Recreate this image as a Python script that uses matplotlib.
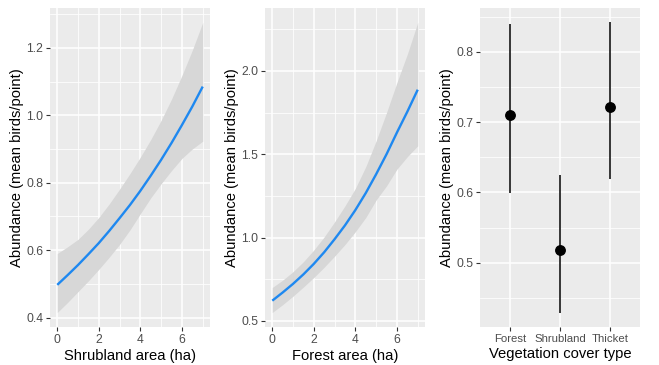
import numpy as np
import matplotlib
matplotlib.use("Agg")
import matplotlib.pyplot as plt
from matplotlib.ticker import FixedLocator

plt.rcParams['font.family'] = ['Liberation Sans', 'DejaVu Sans']

# ---- data ----
area = [0, 0.5, 1, 1.5, 2, 2.5, 3, 3.5, 4, 4.5, 5, 5.5, 6, 6.5, 7]

# panel 1: fitted abundance vs shrubland area with confidence band
shrub_fit = [0.497, 0.526, 0.556, 0.588, 0.621, 0.657, 0.695, 0.734,
             0.776, 0.821, 0.868, 0.918, 0.971, 1.026, 1.085]
shrub_lo = [0.415, 0.445, 0.477, 0.509, 0.543, 0.579, 0.617, 0.660,
            0.708, 0.755, 0.797, 0.836, 0.872, 0.900, 0.923]
shrub_hi = [0.590, 0.610, 0.632, 0.662, 0.697, 0.737, 0.781, 0.827,
            0.876, 0.928, 0.985, 1.048, 1.118, 1.193, 1.275]

# panel 2: fitted abundance vs forest area with confidence band
forest_fit = [0.621, 0.670, 0.722, 0.779, 0.842, 0.912, 0.990, 1.073,
              1.165, 1.267, 1.380, 1.500, 1.630, 1.755, 1.887]
forest_lo = [0.550, 0.597, 0.648, 0.703, 0.760, 0.822, 0.888, 0.958,
             1.035, 1.120, 1.225, 1.310, 1.410, 1.485, 1.550]
forest_hi = [0.700, 0.744, 0.795, 0.855, 0.925, 1.004, 1.094, 1.190,
             1.295, 1.425, 1.580, 1.750, 1.930, 2.100, 2.290]

# panel 3: estimates by vegetation cover type
veg_types = ['Forest', 'Shrubland', 'Thicket']
veg_mean = [0.710, 0.518, 0.722]
veg_lo = [0.599, 0.429, 0.619]
veg_hi = [0.840, 0.625, 0.842]

# ---- style ----
bg = '#EBEBEB'
line_col = '#1E88F0'
ribbon_col = '#D7D7D7'
tick_col = '#4D4D4D'
ylab = 'Abundance (mean birds/point)'

fig = plt.figure(figsize=(6.59, 3.65), dpi=100)
W, H = 659.0, 365.0

def make_ax(x0, x1, y0=8, y1=327):
    ax = fig.add_axes([x0 / W, 1 - y1 / H, (x1 - x0) / W, (y1 - y0) / H])
    ax.set_facecolor(bg)
    for s in ax.spines.values():
        s.set_visible(False)
    ax.set_axisbelow(True)
    ax.grid(which='major', color='white', linewidth=1.1)
    ax.grid(which='minor', color='white', linewidth=0.55)
    ax.tick_params(which='major', length=3, width=0.8, color='#333333',
                   labelcolor=tick_col, labelsize=8.7, pad=2)
    ax.tick_params(which='minor', length=0)
    return ax

def expand(lo, hi, f=0.05):
    d = (hi - lo) * f
    return lo - d, hi + d

# Panel 1: shrubland area
ax1 = make_ax(50, 210)
ax1.fill_between(area, shrub_lo, shrub_hi, color=ribbon_col, lw=0)
ax1.plot(area, shrub_fit, color=line_col, lw=1.7, solid_capstyle='butt')
ax1.set_xlim(*expand(0, 7))
ax1.set_ylim(*expand(min(shrub_lo), max(shrub_hi)))
ax1.xaxis.set_major_locator(FixedLocator([0, 2, 4, 6]))
ax1.xaxis.set_minor_locator(FixedLocator([1, 3, 5, 7]))
ax1.yaxis.set_major_locator(FixedLocator([0.4, 0.6, 0.8, 1.0, 1.2]))
ax1.yaxis.set_minor_locator(FixedLocator([0.5, 0.7, 0.9, 1.1, 1.3]))
ax1.set_yticklabels(['0.4', '0.6', '0.8', '1.0', '1.2'])
ax1.set_xlabel('Shrubland area (ha)', fontsize=10.6, labelpad=2)
ax1.set_ylabel(ylab, fontsize=10.6, labelpad=1.5)

# Panel 2: forest area
ax2 = make_ax(265, 425)
ax2.fill_between(area, forest_lo, forest_hi, color=ribbon_col, lw=0)
ax2.plot(area, forest_fit, color=line_col, lw=1.7, solid_capstyle='butt')
ax2.set_xlim(*expand(0, 7))
ax2.set_ylim(*expand(min(forest_lo), max(forest_hi)))
ax2.xaxis.set_major_locator(FixedLocator([0, 2, 4, 6]))
ax2.xaxis.set_minor_locator(FixedLocator([1, 3, 5, 7]))
ax2.yaxis.set_major_locator(FixedLocator([0.5, 1.0, 1.5, 2.0]))
ax2.yaxis.set_minor_locator(FixedLocator([0.75, 1.25, 1.75, 2.25]))
ax2.set_yticklabels(['0.5', '1.0', '1.5', '2.0'])
ax2.set_xlabel('Forest area (ha)', fontsize=10.6, labelpad=2)
ax2.set_ylabel(ylab, fontsize=10.6, labelpad=1.5)

# Panel 3: vegetation cover type
ax3 = make_ax(480, 640)
xpos = np.arange(1, len(veg_types) + 1)
ax3.vlines(xpos, veg_lo, veg_hi, color='black', lw=1.1)
ax3.plot(xpos, veg_mean, 'o', color='black', ms=6.8)
ax3.set_xlim(0.4, len(veg_types) + 0.6)
ax3.set_ylim(*expand(min(veg_lo), max(veg_hi)))
ax3.set_xticks(xpos)
ax3.set_xticklabels(veg_types, fontsize=8.2)
ax3.yaxis.set_major_locator(FixedLocator([0.5, 0.6, 0.7, 0.8]))
ax3.yaxis.set_minor_locator(FixedLocator([0.45, 0.55, 0.65, 0.75, 0.85]))
ax3.set_yticklabels(['0.5', '0.6', '0.7', '0.8'])
ax3.set_xlabel('Vegetation cover type', fontsize=10.6, labelpad=2)
ax3.set_ylabel(ylab, fontsize=10.6, labelpad=1.5)

fig.savefig('out.png', dpi=100, facecolor='white')
